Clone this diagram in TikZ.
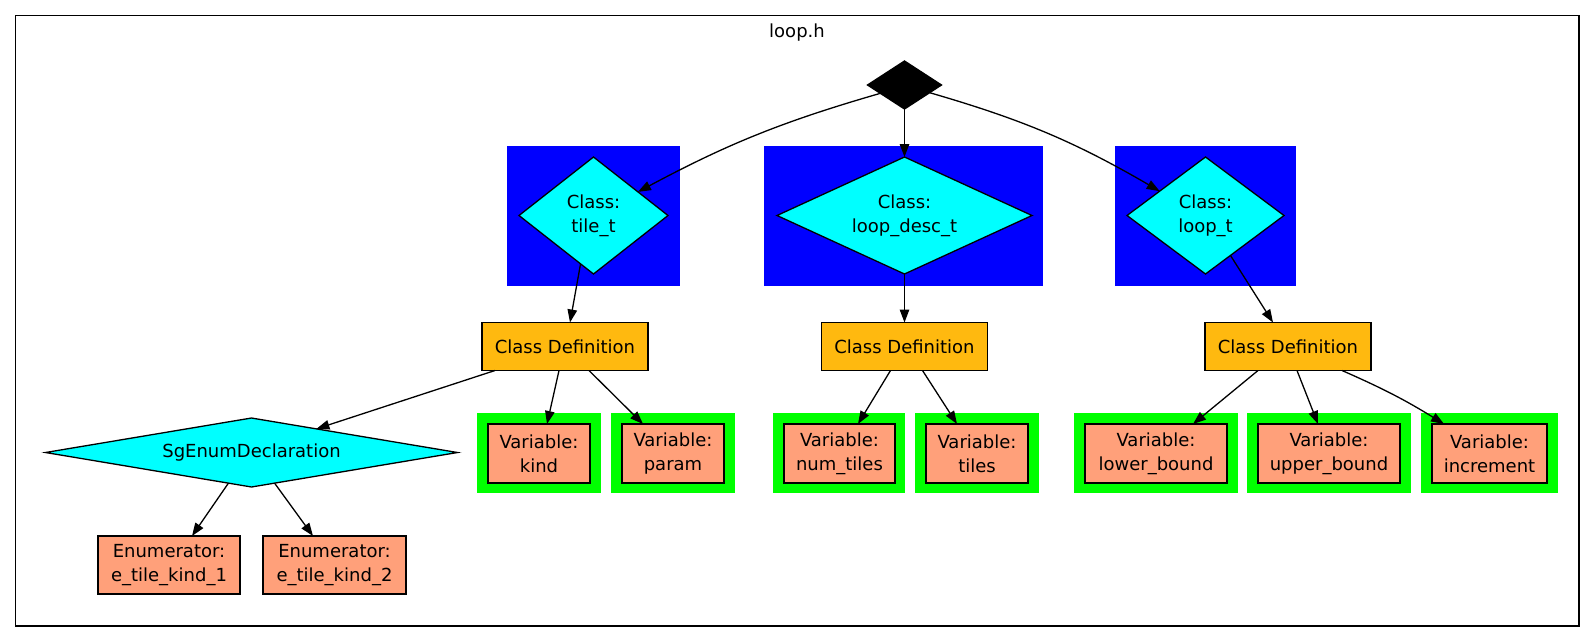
\documentclass[tikz,border=0pt]{standalone}
\usepackage{fontspec}
\setmainfont{DejaVu Sans}
\usetikzlibrary{shapes.geometric,arrows.meta}
\definecolor{gvcyan}{HTML}{00FFFF}
\definecolor{gvblue}{HTML}{0000FF}
\definecolor{gvgreen}{HTML}{00FF00}
\definecolor{gvsalmon}{HTML}{FFA07A}
\definecolor{gvgold}{HTML}{FFB90F}
\begin{document}
\begin{tikzpicture}[x=1pt,y=-1pt,
  every node/.style={font=\fontsize{18}{24}\selectfont, align=center, inner sep=0pt, outer sep=0pt},
  lw/.style={line width=1.3pt},
  arr/.style={lw, -{Triangle[length=13pt,width=9.5pt]}},
  dia/.style={diamond, draw, lw, fill=gvcyan, minimum height=117pt},
  cdbox/.style={rectangle, draw, lw, fill=gvgold, minimum width=166pt, minimum height=48pt},
  varbox/.style={rectangle, draw, lw, fill=gvsalmon, minimum height=59pt},
  enumbox/.style={rectangle, draw, lw, fill=gvsalmon, minimum height=58pt},
  bluebg/.style={fill=gvblue},
  greenbg/.style={fill=gvgreen}]
\useasboundingbox (0,0) rectangle (1595,643);
% cluster frame
\draw[lw] (15.5,15.5) rectangle (1579,626);
\node (title) at (797,33) {loop.h};
% class clusters
\fill[bluebg] (507,146) rectangle (680,286);
\fill[bluebg] (764,146) rectangle (1043,286);
\fill[bluebg] (1115,146) rectangle (1296,286);
% variable clusters
\fill[greenbg] (477,413) rectangle (601,493);
\fill[greenbg] (611,413) rectangle (735,493);
\fill[greenbg] (773,413) rectangle (905,493);
\fill[greenbg] (915,413) rectangle (1039,493);
\fill[greenbg] (1074,413) rectangle (1238,493);
\fill[greenbg] (1247,413) rectangle (1411,493);
\fill[greenbg] (1421,413) rectangle (1558,493);
% nodes
\node[diamond, draw, lw, fill=black, minimum width=74pt, minimum height=48pt] (root) at (904.5,85) {};
\node[dia, minimum width=149pt] (tile) at (593.5,215.5) {Class:\\tile\_t};
\node[dia, minimum width=255pt, shape aspect=2.2] (ldesc) at (904.5,215.5) {Class:\\loop\_desc\_t};
\node[dia, minimum width=157pt] (loopt) at (1205.5,215.5) {Class:\\loop\_t};
\node[cdbox] (cd1) at (565,346.5) {Class Definition};
\node[cdbox] (cd2) at (904.5,346.5) {Class Definition};
\node[cdbox] (cd3) at (1288,346.5) {Class Definition};
\node[dia, minimum width=412pt, minimum height=69pt, shape aspect=6] (sg) at (251.5,452.5) {SgEnumDeclaration};
\node[enumbox, minimum width=142pt] (e1) at (169,565) {Enumerator:\\e\_tile\_kind\_1};
\node[enumbox, minimum width=143pt] (e2) at (334.5,565) {Enumerator:\\e\_tile\_kind\_2};
\node[varbox, minimum width=102pt] (vkind) at (539,453.5) {Variable:\\kind};
\node[varbox, minimum width=102pt] (vparam) at (673,453.5) {Variable:\\param};
\node[varbox, minimum width=111pt] (vnum) at (839.5,453.5) {Variable:\\num\_tiles};
\node[varbox, minimum width=102pt] (vtiles) at (977,453.5) {Variable:\\tiles};
\node[varbox, minimum width=142pt] (vlower) at (1156,453.5) {Variable:\\lower\_bound};
\node[varbox, minimum width=142pt] (vupper) at (1329,453.5) {Variable:\\upper\_bound};
\node[varbox, minimum width=115pt] (vincr) at (1489.5,453.5) {Variable:\\increment};
% edges
\draw[arr] (root.199) to[bend right=6] (tile.28);
\draw[arr] (root.south) -- (ldesc.north);
\draw[arr] (root.343) to[bend left=7] (loopt.152);
\draw[arr] (tile.255) -- ([xshift=5pt]cd1.north);
\draw[arr] (ldesc.south) -- (cd2.north);
\draw[arr] (loopt.302) -- ([xshift=-15pt]cd3.north);
\draw[arr] ([xshift=-70pt]cd1.south) -- (sg.20);
\draw[arr] ([xshift=-6pt]cd1.south) -- ([xshift=8pt]vkind.north);
\draw[arr] ([xshift=24pt]cd1.south) -- ([xshift=-30pt]vparam.north);
\draw[arr] ([xshift=-14pt]cd2.south) -- ([xshift=18.5pt]vnum.north);
\draw[arr] ([xshift=18pt]cd2.south) -- ([xshift=-20pt]vtiles.north);
\draw[arr] ([xshift=-30pt]cd3.south) -- ([xshift=37pt]vlower.north);
\draw[arr] ([xshift=9pt]cd3.south) -- ([xshift=-11pt]vupper.north);
\draw[arr] ([xshift=54pt]cd3.south) to[bend left=4] ([xshift=-45.5pt]vincr.north);
\draw[arr] (sg.233) -- ([xshift=23pt]e1.north);
\draw[arr] (sg.307) -- ([xshift=-21.5pt]e2.north);
\end{tikzpicture}
\end{document}
